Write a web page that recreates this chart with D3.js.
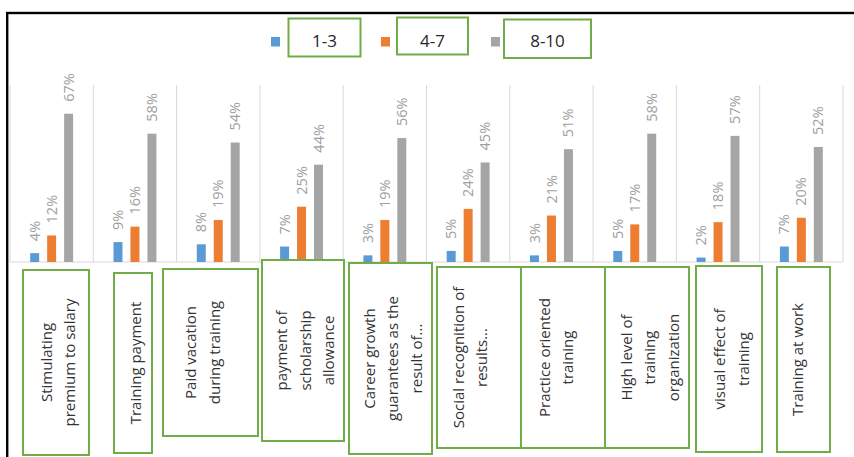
<!DOCTYPE html>
<html>
<head>
<meta charset="utf-8">
<script src="https://cdn.jsdelivr.net/npm/d3@7"></script>
<style>
  html, body { margin: 0; padding: 0; background: #fff; }
  svg { display: block; }
</style>
</head>
<body>
<svg id="chart" width="854" height="457"></svg>
<script>
// ---- data ----
const categories = [
  "Stimulating premium to salary",
  "Training payment",
  "Paid vacation during training",
  "payment of scholarship allowance",
  "Career growth guarantees as the result of...",
  "Social recognition of results...",
  "Practice oriented training",
  "High level of training organization",
  "visual effect of training",
  "Training at work"
];
const categoryLines = [
  ["Stimulating", "premium to salary"],
  ["Training payment"],
  ["Paid vacation", "during training"],
  ["payment of", "scholarship", "allowance"],
  ["Career growth", "guarantees as the", "result of..."],
  ["Social recognition of", "results..."],
  ["Practice oriented", "training"],
  ["High level of", "training", "organization"],
  ["visual effect of", "training"],
  ["Training at work"]
];
const seriesNames = ["1-3", "4-7", "8-10"];
const values13  = [4, 9, 8, 7, 3, 5, 3, 5, 2, 7];
const values47  = [12, 16, 19, 25, 19, 24, 21, 17, 18, 20];
const values810 = [67, 58, 54, 44, 56, 45, 51, 58, 57, 52];
const seriesValues = [values13, values47, values810];

// ---- layout / style (annotation boxes drawn over the chart) ----
const colors = ["#5B9BD5", "#ED7D31", "#A5A5A5"];
const catBoxes = [
  [23, 270, 89, 455, 58],
  [114, 273, 152, 453, 136],
  [163, 269, 258, 436, 202.5],
  [262, 260, 344, 441, 305.5],
  [349, 263, 432, 454, 393],
  [437, 267, 521, 448, 470],
  [521, 267, 605, 448, 556],
  [605, 267, 689, 448, 650],
  [696, 266, 762, 452, 731.5],
  [777, 267, 830, 452, 798]
];
const legendBoxes = [
  [288.5, 18.5, 360.5, 56.5],
  [397, 17.5, 468, 54.5],
  [504, 19.5, 591, 58]
];

const svg = d3.select("#chart");

// outer frame
svg.append("rect")
  .attr("x", 7.2).attr("y", 13).attr("width", 900).attr("height", 500)
  .attr("fill", "none").attr("stroke", "#000").attr("stroke-width", 2.4);

const plotLeft = 10, plotRight = 843, plotTop = 85, plotBase = 262;

const x0 = d3.scaleBand().domain(categories).range([plotLeft, plotRight]).padding(0);
const x1 = d3.scaleBand().domain(seriesNames).range([0, x0.bandwidth()])
  .paddingInner(8 / 17).paddingOuter(1.19);
const y = d3.scaleLinear().domain([0, 80]).range([plotBase, plotTop]);

// vertical category separators
const sep = categories.map(c => x0(c)).concat([plotRight]);
svg.append("g").selectAll("line").data(sep).join("line")
  .attr("x1", d => d).attr("x2", d => d)
  .attr("y1", y(80)).attr("y2", plotBase)
  .attr("stroke", "#d9d9d9").attr("stroke-width", 1);

// baseline axis
svg.append("line")
  .attr("x1", plotLeft).attr("x2", plotRight).attr("y1", plotBase).attr("y2", plotBase)
  .attr("stroke", "#d9d9d9").attr("stroke-width", 1);

// bars
const flat = [];
categories.forEach((c, i) => {
  seriesNames.forEach((s, j) => flat.push({ c, s, j, v: seriesValues[j][i] }));
});
svg.append("g").selectAll("rect").data(flat).join("rect")
  .attr("x", d => x0(d.c) + x1(d.s))
  .attr("width", x1.bandwidth())
  .attr("y", d => y(d.v))
  .attr("height", d => plotBase - y(d.v))
  .attr("fill", d => colors[d.j]);

// value labels (rotated)
svg.append("g").selectAll("text").data(flat).join("text")
  .attr("transform", d => `translate(${x0(d.c) + x1(d.s) + x1.bandwidth() / 2},${y(d.v) - 12}) rotate(-90)`)
  .attr("dy", "0.35em")
  .attr("text-anchor", "start")
  .attr("font-family", "'Open Sans', sans-serif")
  .attr("font-size", 14.5)
  .attr("fill", "#a0a0a0")
  .text(d => d.v + "%");

// legend markers
const legendX = [271, 381, 491];
svg.append("g").selectAll("rect").data(seriesNames).join("rect")
  .attr("x", (d, i) => legendX[i]).attr("y", 37)
  .attr("width", 9).attr("height", 9.5)
  .attr("fill", (d, i) => colors[i]);

// legend boxes
const lg = svg.append("g");
legendBoxes.forEach((b, i) => {
  lg.append("rect")
    .attr("x", b[0]).attr("y", b[1]).attr("width", b[2] - b[0]).attr("height", b[3] - b[1])
    .attr("fill", "#fff").attr("stroke", "#70AD47").attr("stroke-width", 2);
  lg.append("text")
    .attr("x", (b[0] + b[2]) / 2).attr("y", 46.5)
    .attr("text-anchor", "middle")
    .attr("font-family", "'Open Sans', sans-serif")
    .attr("font-size", 17)
    .attr("fill", "#262626")
    .text(seriesNames[i]);
});

// category label boxes
const cg = svg.append("g");
const lh = 23.5;
catBoxes.forEach((b, i) => {
  cg.append("rect")
    .attr("x", b[0]).attr("y", b[1]).attr("width", b[2] - b[0]).attr("height", b[3] - b[1])
    .attr("fill", "#fff").attr("stroke", "#70AD47").attr("stroke-width", 2);
  const lines = categoryLines[i];
  const cy = (b[1] + b[3]) / 2;
  lines.forEach((ln, k) => {
    const cx = b[4] + (k - (lines.length - 1) / 2) * lh;
    cg.append("text")
      .attr("transform", `translate(${cx},${cy}) rotate(-90)`)
      .attr("dy", "0.35em")
      .attr("text-anchor", "middle")
      .attr("font-family", "'Open Sans', sans-serif")
      .attr("font-size", 15)
      .attr("fill", "#333")
      .text(ln);
  });
});
</script>
</body>
</html>
